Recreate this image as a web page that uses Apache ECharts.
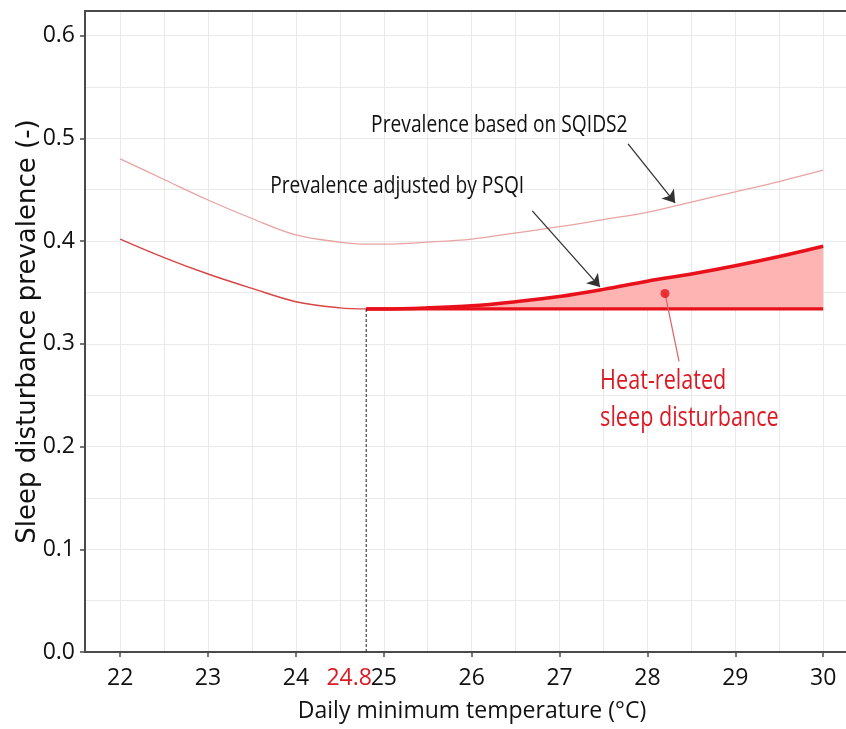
<!DOCTYPE html>
<html>
<head>
<meta charset="utf-8">
<script src="https://cdn.jsdelivr.net/npm/echarts@6/dist/echarts.min.js"></script>
<style>
html,body{margin:0;padding:0;background:#fff;}
#chart{width:846px;height:729px;}
</style>
</head>
<body>
<div id="chart"></div>
<script>
// ---------------- data ----------------
const temps  = [22, 22.5, 23, 23.5, 24, 24.5, 24.8, 25, 25.5, 26, 26.5, 27, 27.5, 28, 28.5, 29, 29.5, 30];
const sqids2 = [0.480, 0.460, 0.440, 0.422, 0.406, 0.399, 0.397, 0.397, 0.399, 0.402, 0.408, 0.414, 0.421, 0.428, 0.438, 0.448, 0.458, 0.469];
const psqi   = [0.402, 0.384, 0.368, 0.354, 0.341, 0.335, 0.334, 0.334, 0.335, 0.337, 0.341, 0.346, 0.353, 0.361, 0.368, 0.376, 0.385, 0.395];
const threshold = 24.8;
const baseline = 0.334;

const xMin = 21.6, xMax = 30.26;
const yMin = 0, yMax = 0.624;
const xTickValues  = [22, 23, 24, 25, 26, 27, 28, 29, 30];
const xLabelValues = [22, 23, 24, 24.8, 25, 26, 27, 28, 29, 30];
const xGridValues  = [22, 22.5, 23, 23.5, 24, 24.5, 25, 25.5, 26, 26.5, 27, 27.5, 28, 28.5, 29, 29.5, 30];
const yTickValues  = [0, 0.1, 0.2, 0.3, 0.4, 0.5, 0.6];
const yGridValues  = [0, 0.05, 0.1, 0.15, 0.2, 0.25, 0.3, 0.35, 0.4, 0.45, 0.5, 0.55, 0.6];

const xTitle = 'Daily minimum temperature (°C)';
const yTitle = 'Sleep disturbance prevalence (-)';

// annotation anchors (data coords)
const labelSqids = {text: 'Prevalence based on SQIDS2', at: [24.856, 0.513]};
const labelPsqi  = {text: 'Prevalence adjusted by PSQI', at: [23.707, 0.4537]};
const labelHeat1 = {text: 'Heat-related', at: [27.462, 0.2635]};
const labelHeat2 = {text: 'sleep disturbance', at: [27.462, 0.2275]};
const arrowSqids = [[27.78, 0.4946], [28.316, 0.4372]];
const arrowPsqi  = [[26.69, 0.4294], [27.46, 0.3554]];
const heatDot    = [28.2, 0.349];
const heatLeader = [[28.2, 0.349], [28.36, 0.283]];

// ---------------- build ----------------
const pts = (xs, ys) => xs.map((x, i) => [x, ys[i]]);
const iT = temps.indexOf(threshold);
const psqiLeft  = pts(temps.slice(0, iT + 1), psqi.slice(0, iT + 1));
const psqiRight = pts(temps.slice(iT), psqi.slice(iT));
const sqidsPts  = pts(temps, sqids2);

const SANS = "'Open Sans',sans-serif";
const RED = '#e8101a';
const TXTRED = '#dd1a24';

const chart = echarts.init(document.getElementById('chart'), null, {renderer: 'canvas'});

const axisDark = '#4a4a4a';
const gridColor = '#e9e9e9';

const option = {
  animation: false,
  backgroundColor: '#fff',
  grid: {left: 85, right: 0, top: 11, bottom: 77, containLabel: false, outerBoundsMode: 'none'},
  xAxis: [
    {
      type: 'value', min: xMin, max: xMax, position: 'top',
      axisLine: {show: true, onZero: false, lineStyle: {color: axisDark, width: 2}},
      axisTick: {show: false, customValues: xGridValues},
      axisLabel: {show: false},
      splitLine: {show: true, lineStyle: {color: gridColor, width: 1}}
    },
    {
      type: 'value', min: xMin, max: xMax, position: 'bottom',
      axisLine: {show: true, onZero: false, lineStyle: {color: axisDark, width: 2}},
      axisTick: {show: true, customValues: xTickValues, length: 5, lineStyle: {color: axisDark, width: 1.5}},
      axisLabel: {
        customValues: xLabelValues, fontSize: 23, fontFamily: SANS, color: '#111', margin: 15,
        formatter: v => (Math.abs(v - threshold) < 1e-6 ? '{red|' + v.toFixed(1) + '}' : String(v)),
        rich: {red: {color: TXTRED, fontSize: 23, fontFamily: SANS, padding: [0, 34, 0, 0]}}
      },
      splitLine: {show: false},
      name: xTitle, nameLocation: 'middle', nameGap: 48, nameMoveOverlap: false,
      nameTextStyle: {fontSize: 23, fontFamily: SANS, color: '#111', padding: [0, 0, 0, 13]}
    }
  ],
  yAxis: [
    {
      type: 'value', min: yMin, max: yMax, position: 'right',
      axisLine: {show: false},
      axisTick: {show: false, customValues: yGridValues},
      axisLabel: {show: false},
      splitLine: {show: true, lineStyle: {color: gridColor, width: 1}}
    },
    {
      type: 'value', min: yMin, max: yMax, position: 'left',
      axisLine: {show: true, onZero: false, lineStyle: {color: axisDark, width: 2}},
      axisTick: {show: true, customValues: yTickValues, length: 5, lineStyle: {color: axisDark, width: 1.5}},
      axisLabel: {
        customValues: yTickValues, fontSize: 23, fontFamily: SANS, color: '#111', margin: 10,
        formatter: v => v.toFixed(1)
      },
      splitLine: {show: false},
      name: yTitle, nameLocation: 'middle', nameGap: 44, nameRotate: 90, nameMoveOverlap: false,
      nameTextStyle: {fontSize: 26, fontFamily: "'DejaVu Sans',sans-serif", color: '#111'}
    }
  ],
  series: [
    {
      name: 'SQIDS2', type: 'line', xAxisIndex: 1, yAxisIndex: 1,
      data: sqidsPts, smooth: 0.35, symbol: 'none',
      lineStyle: {color: '#e9a3a3', width: 1.3}, z: 3
    },
    {
      name: 'PSQI', type: 'line', xAxisIndex: 1, yAxisIndex: 1,
      data: psqiLeft, smooth: 0.35, symbol: 'none',
      lineStyle: {color: '#d84545', width: 1.4}, z: 3
    },
    {
      name: 'PSQI heat', type: 'line', xAxisIndex: 1, yAxisIndex: 1,
      data: psqiRight, smooth: 0.35, symbol: 'none',
      lineStyle: {color: RED, width: 3.5},
      areaStyle: {color: '#ffb4b4', opacity: 1, origin: baseline}, z: 4
    },
    {
      name: 'Baseline', type: 'line', xAxisIndex: 1, yAxisIndex: 1,
      data: [[threshold, baseline], [temps[temps.length - 1], baseline]], symbol: 'none',
      lineStyle: {color: RED, width: 3.2}, z: 5
    },
    {
      name: 'Threshold', type: 'line', xAxisIndex: 1, yAxisIndex: 1,
      data: [[threshold, 0], [threshold, baseline]], symbol: 'none',
      lineStyle: {color: '#222', width: 1, type: [3, 2]}, z: 5
    },
    {
      name: 'Leader', type: 'line', xAxisIndex: 1, yAxisIndex: 1,
      data: heatLeader, symbol: 'none',
      lineStyle: {color: '#e06060', width: 1.2}, z: 6
    },
    {
      name: 'Dot', type: 'scatter', xAxisIndex: 1, yAxisIndex: 1,
      data: [heatDot], symbol: 'circle', symbolSize: 9,
      itemStyle: {color: RED}, z: 7,
      markLine: {
        silent: true, symbol: ['none', 'arrow'], symbolSize: 12,
        label: {show: false},
        lineStyle: {color: '#333', width: 1.3, type: 'solid'},
        itemStyle: {color: '#111'},
        data: [
          [{coord: arrowSqids[0]}, {coord: arrowSqids[1]}],
          [{coord: arrowPsqi[0]}, {coord: arrowPsqi[1]}]
        ]
      }
    }
  ]
};
chart.setOption(option);

// annotation texts, placed from their data anchors
function textAt(lbl, size, color, sx) {
  const p = chart.convertToPixel({xAxisIndex: 1, yAxisIndex: 1}, lbl.at);
  return {
    type: 'text', x: p[0], y: p[1], scaleX: sx, z: 100,
    style: {text: lbl.text, fontSize: size, fontFamily: SANS, fill: color,
            align: 'left', verticalAlign: 'middle'}
  };
}
chart.setOption({
  graphic: [
    textAt(labelSqids, 24, '#111', 0.80),
    textAt(labelPsqi, 24, '#111', 0.80),
    textAt(labelHeat1, 27, TXTRED, 0.80),
    textAt(labelHeat2, 27, TXTRED, 0.80)
  ]
});
</script>
</body>
</html>
